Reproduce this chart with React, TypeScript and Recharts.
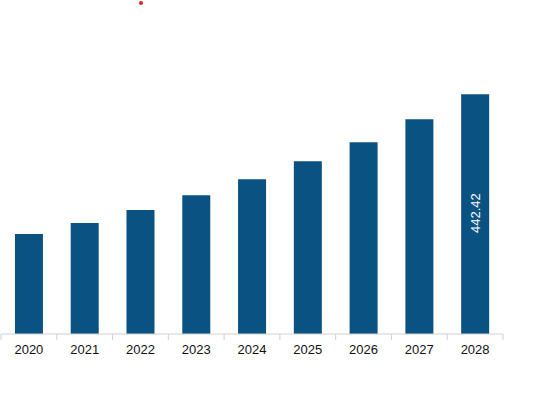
import React from 'react';
import { BarChart, Bar, XAxis, YAxis, LabelList } from 'recharts';

const years = ['2020', '2021', '2022', '2023', '2024', '2025', '2026', '2027', '2028'];
const marketValues = [184.3, 204.6, 228.6, 256.2, 285.7, 318.9, 353.9, 396.3, 442.42];
const labelValues = [null, null, null, null, null, null, null, null, 442.42];

const data = years.map((year, i) => ({ year, value: marketValues[i], label: labelValues[i] }));

const WIDTH = 543;
const HEIGHT = 394;
const MARGIN = { top: 63, right: 40, left: 1, bottom: 30 };
const BAND = (WIDTH - MARGIN.left - MARGIN.right) / years.length;
const FONT = "'Liberation Sans', Arial, sans-serif";

const YearTick = (props: any) => {
  const { x, y, payload, index } = props;
  const last = index === years.length - 1;
  return (
    <g>
      <line x1={x - BAND / 2} y1={y - 8} x2={x - BAND / 2} y2={y - 2} stroke="#d0d0d0" />
      {last && <line x1={x + BAND / 2} y1={y - 8} x2={x + BAND / 2} y2={y - 2} stroke="#d0d0d0" />}
      <text x={x} y={y + 12} textAnchor="middle" fontSize={13} fill="#111" fontFamily={FONT}>
        {payload.value}
      </text>
    </g>
  );
};

const VerticalLabel = (props: any) => {
  const { x, y, width, height, value } = props;
  if (value == null) return null;
  const cx = x + width / 2;
  const cy = y + height / 2 - 1;
  return (
    <text
      x={cx}
      y={cy}
      transform={`rotate(-90, ${cx}, ${cy})`}
      textAnchor="middle"
      dominantBaseline="central"
      fontSize={13}
      fill="#ffffff"
      fontFamily={FONT}
    >
      {value}
    </text>
  );
};

export default function App() {
  return (
    <div style={{ position: 'absolute', left: 0, top: 0, width: WIDTH, height: HEIGHT, background: '#fff' }}>
      <div style={{ position: 'absolute', left: 139, top: 1, width: 4, height: 4, borderRadius: 2, background: '#e8202a' }} />
      <BarChart width={WIDTH} height={HEIGHT} data={data} margin={MARGIN} barCategoryGap="25%">
        <XAxis
          dataKey="year"
          axisLine={{ stroke: '#d0d0d0' }}
          tickLine={false}
          tick={<YearTick />}
          height={30}
          interval={0}
        />
        <YAxis hide domain={[0, 500]} />
        <Bar dataKey="value" fill="#0a5282" isAnimationActive={false} maxBarSize={28}>
          <LabelList dataKey="label" content={<VerticalLabel />} />
        </Bar>
      </BarChart>
    </div>
  );
}
